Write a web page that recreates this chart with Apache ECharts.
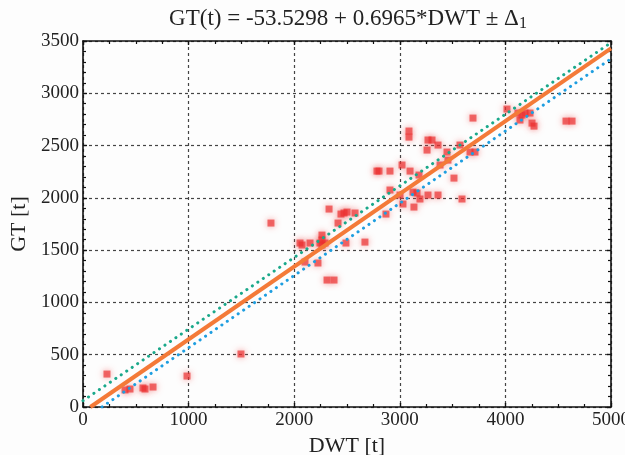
<!DOCTYPE html>
<html><head><meta charset="utf-8">
<script src="https://cdn.jsdelivr.net/npm/echarts@6/dist/echarts.min.js"></script>
<style>html,body{margin:0;padding:0;background:#fff}#c{width:625px;height:455px}</style>
</head><body><div id="c"></div>
<script>
var titleMain = 'GT(t) = -53.5298 + 0.6965*DWT \u00b1 \u0394';
var titleSub = '1';
var xName = 'DWT [t]';
var yName = 'GT [t]';
var xTicks = [0, 1000, 2000, 3000, 4000, 5000];
var yTicks = [0, 500, 1000, 1500, 2000, 2500, 3000, 3500];
var pointsDWT = [227,398,445,568,587,663,985,1496,
 1780,2055,2074,2150,2244,2263,2292,2263,2263,2102,2225,2311,2377,2330,2443,2472,2500,2576,2415,2490,2670,2869,
 2784,2803,2907,3021,3097,3087,3087,3267,3305,3362,3258,3447,3570,3665,3712,3693,3182,3381,3456,3513,2907,3002,3125,3163,3267,3362,3191,3134,3030,3589,
 4015,4119,4157,4186,4233,4138,4252,4271,4574,4631];
var pointsGT = [315,163,172,182,172,191,296,507,
 1759,1568,1549,1568,1568,1549,1568,1597,1644,1386,1377,1214,1214,1893,1845,1855,1864,1855,1759,1568,1577,1845,
 2256,2256,2256,2314,2256,2639,2581,2553,2553,2505,2457,2438,2505,2438,2438,2763,2218,2314,2361,2189,2075,2027,2055,2046,2027,2027,1989,1912,1941,1989,
 2849,2811,2792,2811,2811,2744,2715,2686,2734,2734];
var fitDWT = [70, 5000];
var fitGT = [0, 3429];
var upperDWT = [0, 5000];
var upperGT = [60, 3484];
var lowerDWT = [180, 5000];
var lowerGT = [0, 3330];

function pairs(a, b) { return a.map(function (v, i) { return [v, b[i]]; }); }

var serif = 'Liberation Serif';
var chart = echarts.init(document.getElementById('c'), null, {renderer: 'canvas'});
function axisBase(pos, min, max, interval, split, labels) {
  return {
    type: 'value', position: pos, min: min, max: max, interval: interval,
    axisLine: {show: true, onZero: false, lineStyle: {color: '#111', width: 1.6}},
    axisTick: {show: true, inside: true, length: 4, lineStyle: {color: '#111', width: 1.4}},
    minorTick: {show: true, splitNumber: split, length: 3, lineStyle: {color: '#111', width: 1.2}},
    axisLabel: {show: labels, fontFamily: serif, fontSize: 19, color: '#222', margin: 4,
      formatter: function (v) { return String(v); }},
    splitLine: {show: false}
  };
}
var xb = axisBase('bottom', 0, 5000, 1000, 4, true);
xb.splitLine = {show: true, lineStyle: {color: '#444', width: 1.2, type: [3, 3]}};
xb.name = xName; xb.nameLocation = 'middle'; xb.nameGap = 27;
xb.nameTextStyle = {fontFamily: serif, fontSize: 22, color: '#222'};
var xt = axisBase('top', 0, 5000, 1000, 4, false);
var yl = axisBase('left', 0, 3500, 500, 5, true);
yl.splitLine = {show: true, lineStyle: {color: '#444', width: 1.2, type: [3, 3]}};
yl.name = yName; yl.nameLocation = 'middle'; yl.nameGap = 52;
yl.nameTextStyle = {fontFamily: serif, fontSize: 22, color: '#222'};
var yr = axisBase('right', 0, 3500, 500, 5, false);

chart.setOption({
  animation: false,
  backgroundColor: '#fdfdfd',
  title: {
    text: '{a|' + titleMain + '}{s|' + titleSub + '}',
    left: 343, top: 1, textAlign: 'center',
    textStyle: {fontWeight: 'normal', rich: {
      a: {fontFamily: serif, fontSize: 23, fontWeight: 'normal', color: '#222'},
      s: {fontFamily: serif, fontSize: 16, fontWeight: 'normal', color: '#222', padding: [10, 0, 0, 0]}
    }}
  },
  grid: {left: 83, right: 14, top: 41, bottom: 48, containLabel: false, outerBoundsMode: 'none'},
  xAxis: [xb, xt],
  yAxis: [yl, yr],
  series: [
    {type: 'scatter', data: pairs(pointsDWT, pointsGT), symbol: 'rect', symbolSize: 7,
     itemStyle: {color: 'rgba(235,45,45,0.85)', shadowBlur: 6, shadowColor: 'rgba(240,70,70,0.8)'}, z: 2},
    {type: 'line', data: pairs(upperDWT, upperGT), showSymbol: false, symbol: 'none',
     lineStyle: {color: '#1aa88a', width: 3, type: [0.1, 6.5], cap: 'round'}, z: 3},
    {type: 'line', data: pairs(lowerDWT, lowerGT), showSymbol: false, symbol: 'none',
     lineStyle: {color: '#1e9ee0', width: 3, type: [0.1, 6.5], cap: 'round'}, z: 3},
    {type: 'line', data: pairs(fitDWT, fitGT), showSymbol: false, symbol: 'none',
     lineStyle: {color: '#f47a38', width: 4}, z: 4}
  ]
});
</script></body></html>
